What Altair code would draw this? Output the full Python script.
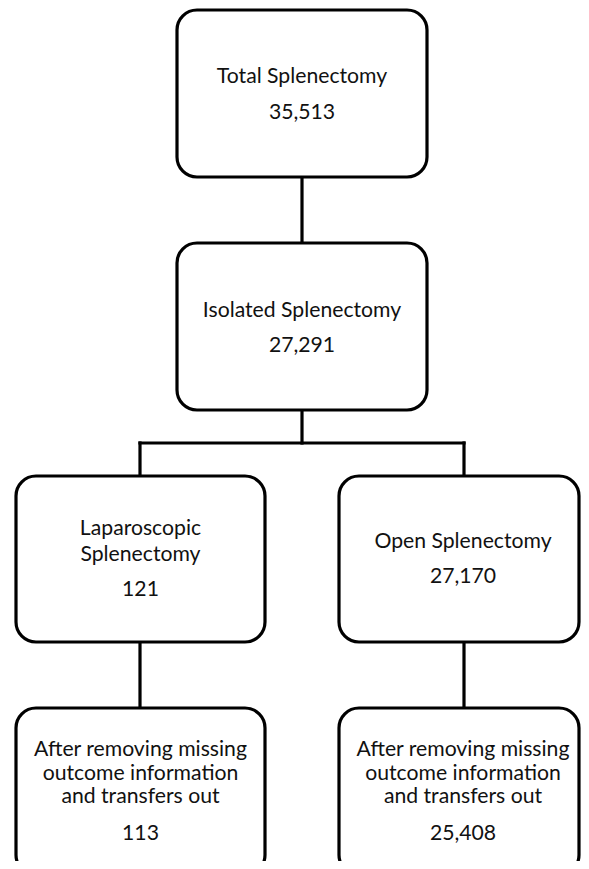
import altair as alt
import pandas as pd

# ---- content ----
titles = [
    ["Total Splenectomy"],
    ["Isolated Splenectomy"],
    ["Laparoscopic", "Splenectomy"],
    ["Open Splenectomy"],
    ["After removing missing", "outcome information", "and transfers out"],
    ["After removing missing", "outcome information", "and transfers out"],
]
counts = ["35,513", "27,291", "121", "27,170", "113", "25,408"]

# ---- layout (pixel frame of the figure) ----
box_x0 = [177, 177, 16, 339, 16, 339]
box_x1 = [427, 427, 265, 579, 265, 579]
text_cx = [302, 302, 140.5, 463, 140.5, 463]
box_y0 = [10, 243, 476, 476, 708, 708]
box_y1 = [177, 410, 642, 642, 875, 875]
title_baselines = [[83], [317], [535, 561], [548], [756, 780, 803], [756, 780, 803]]
count_baselines = [119, 352, 596, 583, 840, 840]

links = [  # (x, y, x2, y2)
    (302, 177, 302, 243),
    (302, 410, 302, 443),
    (140, 443, 464, 443),
    (140, 443, 140, 476),
    (464, 443, 464, 476),
    (140, 642, 140, 708),
    (464, 642, 464, 708),
]

boxes = pd.DataFrame({"x0": box_x0, "x1": box_x1, "y0": box_y0, "y1": box_y1})
rows = []
for i in range(len(counts)):
    for t, b in zip(titles[i], title_baselines[i]):
        rows.append({"x": text_cx[i], "y": b, "t": t})
    rows.append({"x": text_cx[i], "y": count_baselines[i], "t": counts[i]})
texts = pd.DataFrame(rows)
edges = pd.DataFrame(links, columns=["x", "y", "x2", "y2"])

xs = alt.Scale(domain=[8, 581], nice=False, zero=False)
ys = alt.Scale(domain=[8, 861], nice=False, zero=False, reverse=True)

rules = alt.Chart(edges).mark_rule(color="black", strokeWidth=3.2, strokeCap="square").encode(
    x=alt.X("x:Q", scale=xs, axis=None),
    y=alt.Y("y:Q", scale=ys, axis=None),
    x2="x2:Q",
    y2="y2:Q",
)

rects = alt.Chart(boxes).mark_rect(
    fill="white", stroke="black", strokeWidth=3.2, cornerRadius=20, clip=True
).encode(
    x=alt.X("x0:Q", scale=xs, axis=None),
    x2="x1:Q",
    y=alt.Y("y0:Q", scale=ys, axis=None),
    y2="y1:Q",
)

labels = alt.Chart(texts).mark_text(
    font="Lato", fontSize=21.2, color="#111111", align="center", baseline="alphabetic"
).encode(
    x=alt.X("x:Q", scale=xs, axis=None),
    y=alt.Y("y:Q", scale=ys, axis=None),
    text="t:N",
)

chart = (
    alt.layer(rules, rects, labels)
    .properties(
        width=573,
        height=853,
        padding=0,
        autosize=alt.AutoSizeParams(type="fit", contains="padding"),
        background="white",
    )
    .configure_view(stroke=None)
)

chart.save("out.html", embed_options={"renderer": "svg", "actions": False})
